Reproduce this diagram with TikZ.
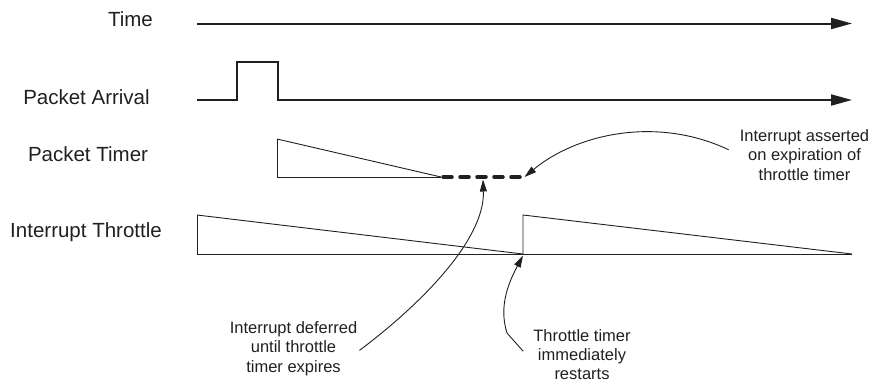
\documentclass[tikz,border=0pt]{standalone}
\usepackage{fontspec}
\setmainfont{Liberation Sans}
\usetikzlibrary{arrows.meta}
\definecolor{ink}{RGB}{35,31,32}
\begin{document}
\begin{tikzpicture}[x=1pt,y=-1pt,
  lbl/.style={inner sep=0pt, anchor=base, font=\fontsize{20.5}{24}\selectfont, text=ink},
  note/.style={inner sep=0pt, anchor=north, align=center, font=\fontsize{16.5}{19.5}\selectfont, text=ink},
  sig/.style={draw=ink, line width=2pt},
  thinline/.style={draw=ink, line width=0.9pt},
  bigarrow/.style={-{Triangle[length=21pt,width=11pt]}},
  pointer/.style={draw=ink, line width=0.9pt, -{Triangle[length=12pt,width=7pt]}},
  deferline/.style={draw=ink, line width=3.5pt, line cap=round, dash pattern=on 9pt off 8pt}]
\useasboundingbox (0,0) rectangle (872,381);

% labels
\node[lbl] (ltime) at (130.5,26.5) {Time};
\node[lbl] (larr) at (86.5,104) {Packet Arrival};
\node[lbl] (ltimer) at (88,161) {Packet Timer};
\node[lbl] (lthr) at (86,237.5) {Interrupt Throttle};

% time axis
\draw[sig,bigarrow] (197,23.5) -- (852,23.5);

% packet arrival
\draw[sig,bigarrow] (197,100) -- (237,100) -- (237,62) -- (278,62) -- (278,100) -- (852,100);

% packet timer
\draw[thinline] (277,139) -- (277,177) -- (441,177);
\draw[thinline] (277,139) -- (441,177);
\draw[deferline] (443,177) -- (523,177);

% interrupt throttle
\draw[thinline] (197,215) -- (197,254) -- (852,254);
\draw[thinline] (197,215) -- (523,254);
\draw[thinline] (523,254) -- (523,215) -- (852,254);

% annotations
\node[note] (defer) at (293.5,321) {Interrupt deferred\\until throttle\\timer expires};
\node[note, font=\fontsize{16.5}{19}\selectfont] (restart) at (582,329) {Throttle timer\\immediately\\restarts};
\node[note] (assert) at (804.5,129) {Interrupt asserted\\on expiration of\\throttle timer};

\coordinate (tipdefer) at (483,179.5);
\coordinate (tipassert) at (524.5,177);
\coordinate (tiprestart) at (523,255.5);

\draw[pointer] ([shift={(2,2)}]defer.east) .. controls (420,305) and (485,240) .. (tipdefer);
\draw[pointer] ([shift={(-10,-3)}]restart.west) -- (507,333) .. controls (498,305) and (510,280) .. (tiprestart);
\draw[pointer] ([shift={(-11,-5)}]assert.west) .. controls (655,115) and (575,135) .. (tipassert);
\end{tikzpicture}
\end{document}
